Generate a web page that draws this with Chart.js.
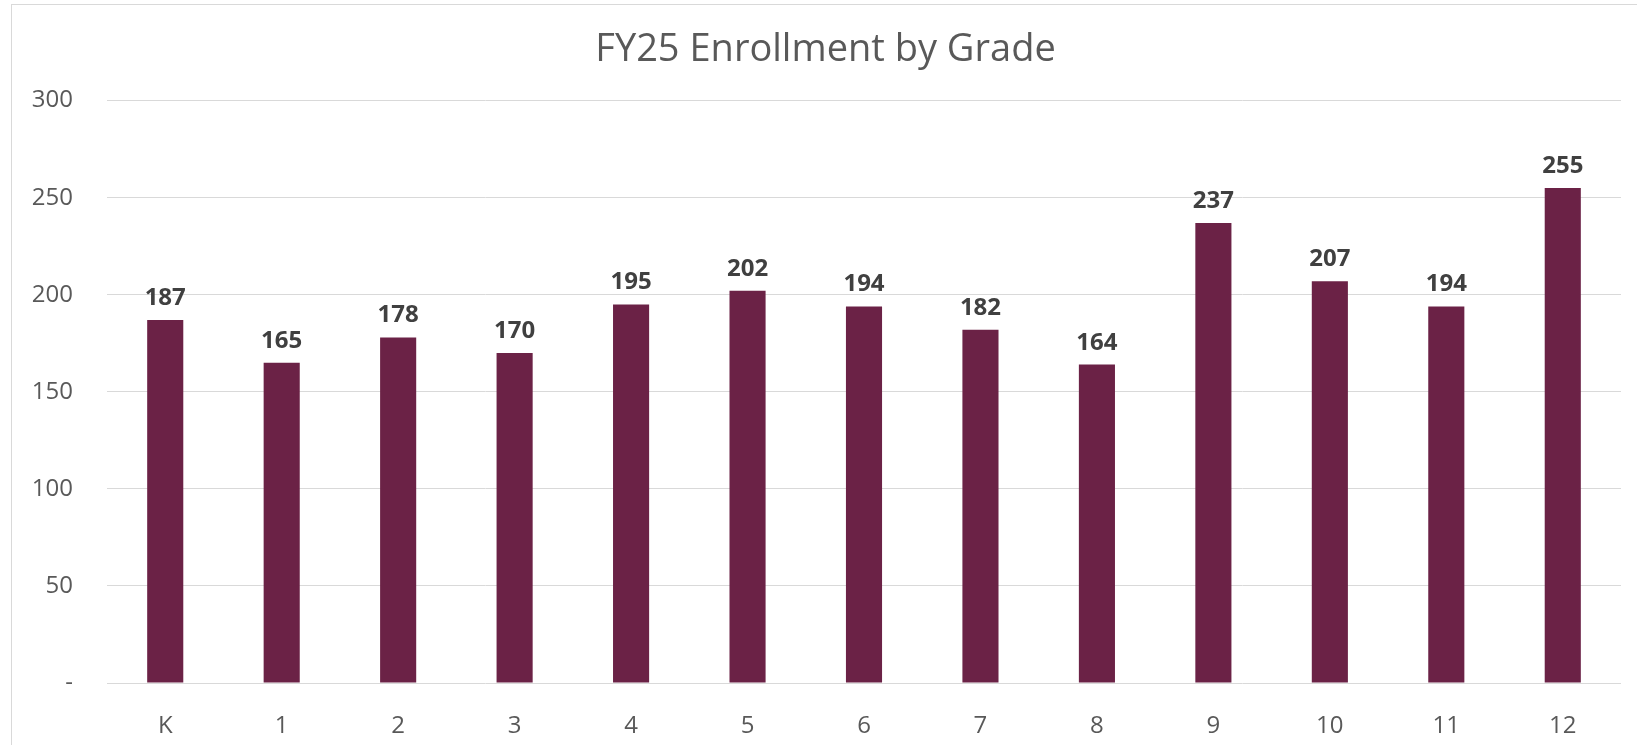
<!DOCTYPE html>
<html>
<head>
<meta charset="utf-8">
<script src="https://cdn.jsdelivr.net/npm/chart.js@4/dist/chart.umd.min.js"></script>
<style>
    html, body { margin: 0; padding: 0; background: #ffffff; overflow: hidden; }
    #wrap { position: relative; width: 1637px; height: 745px; }
    #frame {
        position: absolute; left: 11px; top: 4px; width: 2000px; height: 2000px;
        border: 1.5px solid #d9d9d9; pointer-events: none;
    }
</style>
</head>
<body>
<div id="wrap">
    <canvas id="grade-chart" width="1637" height="745"></canvas>
    <div id="frame"></div>
</div>
<script>
const grades = ['K', '1', '2', '3', '4', '5', '6', '7', '8', '9', '10', '11', '12'];
const enrollment = [187, 165, 178, 170, 195, 202, 194, 182, 164, 237, 207, 194, 255];
const yTicks = [0, 50, 100, 150, 200, 250, 300];

const barColor = '#6b2246';
const textColor = '#595959';
const labelColor = '#404040';
const gridColor = '#d9d9d9';
const fontFamily = '"Open Sans", "Noto Sans", sans-serif';

// value labels above each bar
const valueLabels = {
    id: 'valueLabels',
    afterDatasetsDraw(chart) {
        const ctx = chart.ctx;
        const meta = chart.getDatasetMeta(0);
        ctx.save();
        ctx.font = `bold 24px ${fontFamily}`;
        ctx.fillStyle = labelColor;
        ctx.textAlign = 'center';
        ctx.textBaseline = 'alphabetic';
        meta.data.forEach((bar, i) => {
            ctx.fillText(String(enrollment[i]), bar.x, bar.y - 15);
        });
        ctx.restore();
    }
};

const chartCanvas = document.getElementById('grade-chart');

new Chart(chartCanvas, {
    type: 'bar',
    data: {
        labels: grades,
        datasets: [{
            data: enrollment,
            backgroundColor: barColor,
            borderWidth: 0,
            categoryPercentage: 1,
            barPercentage: 0.31
        }]
    },
    options: {
        responsive: false,
        animation: false,
        devicePixelRatio: 1,
        layout: { padding: { left: 30, right: 16, top: 0, bottom: 0 } },
        plugins: {
            legend: { display: false },
            tooltip: { enabled: false },
            title: {
                display: true,
                text: 'FY25 Enrollment by Grade',
                color: textColor,
                font: { family: fontFamily, size: 38, weight: 'normal' },
                padding: { top: 27, bottom: 28 }
            }
        },
        scales: {
            x: {
                grid: { display: false },
                border: { display: false },
                ticks: {
                    color: textColor,
                    font: { family: fontFamily, size: 24 },
                    padding: 21,
                    maxRotation: 0
                },
                afterFit(scale) { scale.height = 62; }
            },
            y: {
                min: 0,
                max: 300,
                afterBuildTicks(scale) {
                    scale.ticks = yTicks.map(v => ({ value: v }));
                },
                grid: { color: gridColor, lineWidth: 1, drawTicks: false },
                border: { display: false },
                ticks: {
                    color: textColor,
                    font: { family: fontFamily, size: 24 },
                    padding: 34,
                    callback: value => (value === 0 ? '-' : String(value))
                },
                afterFit(scale) { scale.width = 77; }
            }
        }
    },
    plugins: [valueLabels]
});
</script>
</body>
</html>
